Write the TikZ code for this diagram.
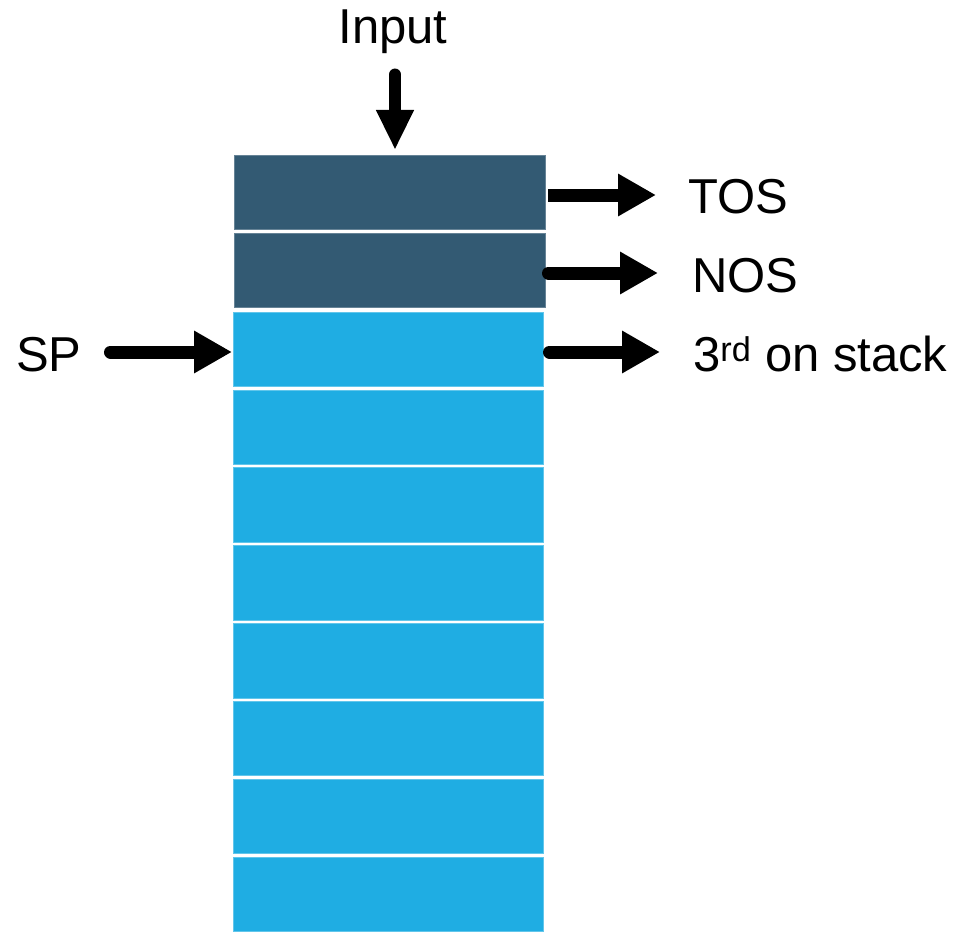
\documentclass[tikz,border=0pt]{standalone}
\usepackage{fontspec}
\setmainfont{Liberation Sans}
\usetikzlibrary{arrows.meta}
\definecolor{stackdark}{HTML}{335A73}
\definecolor{stacklight}{HTML}{1FADE3}
\tikzset{
  cell/.style={rectangle, minimum width=310.7pt, minimum height=74.4pt, inner sep=0pt, line width=0.9pt},
  darkcell/.style={cell, fill=stackdark, draw=stackdark!75!white},
  lightcell/.style={cell, fill=stacklight, draw=stacklight!70!white},
  lbl/.style={inner sep=0pt, anchor=base west, font=\fontsize{49}{55}\selectfont},
  bigarrow/.style={line width=13pt, -{Triangle[length=38pt, width=40pt]}},
  roundarrow/.style={bigarrow, line cap=round},
}
\begin{document}
\begin{tikzpicture}[x=1pt, y=-1pt]
\useasboundingbox (0,0) rectangle (978,934);
% stack cells
\node[darkcell] (c1) at (389.9,192.5) {};
\node[darkcell] (c2) at (389.9,270.4) {};
\foreach \i in {0,...,7} {
  \node[lightcell] (s\i) at (388.5,{349.4+77.86*\i}) {};
}
% labels
\node[lbl, anchor=base] (input) at (393,44) {Input};
\node[lbl] (tos) at (688,213) {TOS};
\node[lbl] (nos) at (692,292) {NOS};
\node[lbl] (third) at (693,371) {3\textsuperscript{rd} on stack};
\node[lbl] (sp) at (16,371) {SP};
% arrow coordinates
\coordinate (inA) at (395,74.5);
\coordinate (inB) at (395,150);
\coordinate (tosA) at (548,195);
\coordinate (tosB) at (656,195);
\coordinate (nosA) at (548.5,273);
\coordinate (nosB) at (658,273);
\coordinate (thA) at (549.5,352);
\coordinate (thB) at (660,352);
\coordinate (spA) at (110.5,352);
\coordinate (spB) at (232,352);
% arrows
\draw[line width=12pt, line cap=round, -{Triangle[length=40pt, width=35pt]}] (inA) -- (inB);
\draw[bigarrow] (tosA) -- (tosB);
\draw[roundarrow] (nosA) -- (nosB);
\draw[roundarrow] (thA) -- (thB);
\draw[roundarrow] (spA) -- (spB);
\end{tikzpicture}
\end{document}
